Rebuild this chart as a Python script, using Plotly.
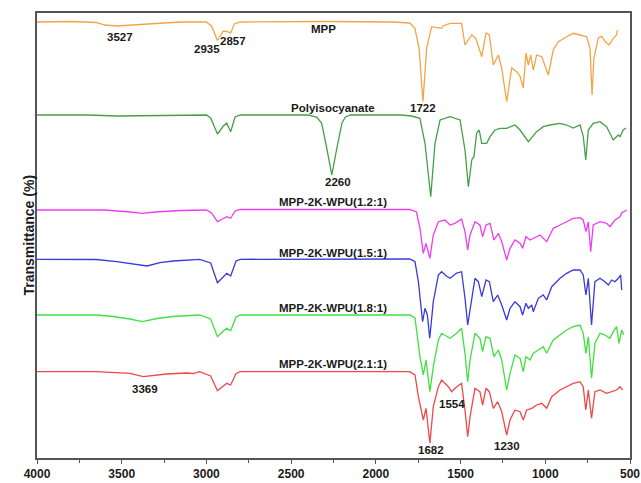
import plotly.graph_objects as go

# ---- data: FTIR spectra (wavenumber in cm-1, offset transmittance in arbitrary units) ----
mpp_wn = [4000, 3800, 3650, 3600, 3527, 3450, 3300, 3150, 3000, 2970, 2935, 2900, 2880, 2857, 2835, 2800,
          2300, 1900, 1800, 1770, 1745, 1722, 1700, 1671, 1612, 1604, 1562, 1494, 1474, 1434, 1410, 1375,
          1350, 1330, 1307, 1277, 1257, 1228, 1198, 1169, 1149, 1130, 1114, 1100, 1086, 1071, 1051, 1021,
          982, 953, 923, 874, 835, 795, 756, 736, 724, 713, 687, 667, 648, 624, 599, 579, 575]
mpp_t = [436, 436.5, 435.5, 433, 432, 433, 434.5, 436, 436, 432, 417.5, 427, 426.5, 425, 434, 436,
         436.5, 436, 435, 430, 410, 356.5, 410, 431.3, 429.7, 432, 434.7, 434.7, 413, 423, 419.7, 401.3,
         425, 423, 393, 403, 389.7, 356.3, 390, 386.3, 381.7, 370, 405, 393, 403, 388, 403, 401.3,
         383, 408, 416.3, 421.3, 424.7, 423, 421.3, 409.7, 363, 399.7, 420, 421.7, 416.7, 413, 419.7, 423, 428]

poly_wn = [4000, 3700, 3527, 3300, 3000, 2975, 2935, 2900, 2880, 2857, 2831, 2800, 2400, 2350, 2320, 2290,
           2260, 2230, 2200, 2180, 2150, 1850, 1790, 1740, 1710, 1676, 1651, 1621, 1562, 1503, 1474, 1454,
           1434, 1421, 1405, 1390, 1375, 1346, 1326, 1297, 1267, 1228, 1179, 1149, 1100, 1051, 1012, 972,
           913, 874, 835, 795, 776, 761, 746, 717, 677, 638, 599, 569, 559, 540, 524]
poly_t = [343, 343, 342, 342.5, 343, 340, 324, 332, 335, 326.3, 341, 343, 343, 341, 335, 310,
          283, 310, 335, 341, 343, 343, 342, 339.7, 314.7, 261.3, 314.7, 338, 341.3, 338, 308, 271.3,
          298, 301.3, 325, 328, 314.7, 314.7, 321.3, 328, 329.7, 329.7, 333, 328, 316.3, 326.3, 331.3, 333,
          334.7, 333, 330, 333, 321.7, 298, 328, 334.7, 336.3, 331.3, 318, 323, 321.3, 328, 330]

w12_wn = [4000, 3600, 3450, 3380, 3300, 3150, 3000, 2970, 2935, 2900, 2880, 2857, 2831, 2800, 1800, 1760,
          1740, 1720, 1704, 1681, 1661, 1631, 1592, 1562, 1533, 1494, 1474, 1458, 1444, 1415, 1386, 1370,
          1350, 1326, 1303, 1277, 1257, 1228, 1208, 1179, 1149, 1134, 1114, 1090, 1071, 1031, 992, 953,
          913, 874, 835, 795, 776, 760, 746, 732, 717, 677, 638, 618, 589, 559, 549, 520]
w12_t = [248, 248, 246, 244.7, 246, 247.5, 248, 245, 236.3, 240, 241.3, 239.7, 247, 248.5, 248.7, 246,
         230, 204.7, 214.7, 199.7, 223, 236.3, 238, 233, 234.7, 239, 226.3, 208, 223, 236.3, 233, 221.3,
         233, 234.7, 218, 224.7, 216.3, 198, 209.7, 218, 214.7, 209.7, 221.3, 218, 219.7, 223, 216.3, 229.7,
         233, 236.3, 239.7, 240.3, 238, 226.3, 236, 206.3, 233, 236.3, 234.7, 231.3, 238, 241.3, 245, 248]

w15_wn = [4000, 3650, 3530, 3432, 3375, 3350, 3274, 3196, 3040, 2975, 2935, 2900, 2880, 2857, 2825, 2800,
          1800, 1769, 1749, 1724, 1710, 1696, 1682, 1661, 1631, 1612, 1582, 1562, 1523, 1494, 1474, 1458,
          1444, 1415, 1395, 1375, 1350, 1330, 1307, 1281, 1257, 1228, 1208, 1179, 1149, 1134, 1114, 1100,
          1080, 1071, 1041, 1012, 992, 962, 913, 874, 835, 795, 776, 760, 746, 727, 707, 677, 648, 628,
          608, 589, 569, 555, 549]
w15_t = [198.7, 198.5, 196.3, 194, 192, 192, 195.3, 197, 198.7, 195, 175.3, 182, 184.7, 182, 197, 198.7,
         199, 196.3, 176.3, 136.3, 149.7, 143, 119.7, 156.3, 183, 186.3, 181.7, 179.7, 185, 186.3, 160, 133,
         149.7, 179.7, 176.3, 161.3, 178, 176.3, 156.3, 163, 153, 138, 149.7, 156.3, 151.3, 143, 154.7, 149.7,
         153, 146.3, 159.7, 163, 158, 171.3, 179.7, 184.7, 188, 188, 183, 163, 179.7, 133, 176.3, 179.7, 176.3, 173,
         178, 176.3, 179.7, 183, 168]

w18_wn = [4000, 3650, 3550, 3450, 3380, 3290, 3200, 3040, 2975, 2935, 2900, 2880, 2857, 2825, 2800, 1800,
          1769, 1740, 1720, 1704, 1681, 1661, 1631, 1612, 1562, 1523, 1494, 1474, 1458, 1444, 1415, 1386,
          1370, 1350, 1326, 1303, 1277, 1257, 1228, 1208, 1179, 1149, 1130, 1114, 1090, 1071, 1041, 1012,
          992, 953, 913, 874, 835, 795, 776, 760, 746, 727, 707, 677, 648, 618, 599, 579, 565, 549, 536]
w18_t = [143, 143, 141.5, 139, 136.3, 139.5, 141.5, 143, 139, 121.3, 127, 129.7, 127.3, 141, 143, 143,
         140, 101.3, 83, 98, 66.3, 91.3, 118, 124.7, 119.7, 124.7, 129.7, 104.7, 76.3, 98, 124.7, 119.7,
         106.3, 121.3, 119.7, 101.3, 108, 98, 68, 84.7, 103, 99.7, 86.3, 101.3, 98, 104.7, 108, 111.3,
         104.7, 118, 123, 128, 131.3, 133, 124.7, 104.7, 121.3, 79.7, 114.7, 124.7, 123, 119.7, 126.3, 131.3, 114.7, 128, 123]

w21_wn = [4000, 3650, 3451, 3373, 3235, 3117, 3077, 3040, 2975, 2935, 2900, 2880, 2857, 2825, 2800, 1800,
          1769, 1749, 1720, 1704, 1681, 1661, 1631, 1612, 1572, 1553, 1523, 1494, 1474, 1458, 1444, 1415,
          1386, 1370, 1350, 1330, 1307, 1281, 1257, 1228, 1208, 1179, 1149, 1130, 1110, 1080, 1051, 1021,
          992, 962, 913, 874, 835, 795, 776, 761, 746, 727, 707, 677, 638, 608, 579, 559, 544]
w21_t = [86.3, 86.3, 84.7, 81.3, 84, 85, 84.5, 86.3, 82, 67.3, 72, 74.7, 73, 84.5, 86.3, 86.3,
         83, 61.3, 38, 49.7, 14.7, 51.3, 71.3, 78, 71.3, 66.3, 71.3, 74.7, 48, 21.3, 41.3, 69.7,
         66.3, 53, 69.7, 66.3, 49.7, 56.3, 46.3, 23, 38, 48, 46.3, 38, 48, 49.7, 53, 54.7,
         49.7, 61.3, 68, 71.3, 74.7, 76.3, 71.3, 48, 68, 39.7, 66.3, 68, 64.7, 66.3, 68, 71.3, 68]

series_names = ["MPP", "Polyisocyanate", "MPP-2K-WPU(1.2:1)", "MPP-2K-WPU(1.5:1)",
                "MPP-2K-WPU(1.8:1)", "MPP-2K-WPU(2.1:1)"]
x_tick_vals = [4000, 3500, 3000, 2500, 2000, 1500, 1000, 500]
x_tick_text = ["4000", "3500", "3000", "2500", "2000", "1500", "1000", "500"]

# peak labels
peak_labels = ["3527", "2935", "2857", "1722", "2260", "3369", "1554", "1682", "1230"]

# ---- figure ----
colors = ["#F5A445", "#45A045", "#F03CF0", "#3A3AD8", "#3FE03F", "#EE4848"]
spectra = [(mpp_wn, mpp_t), (poly_wn, poly_t), (w12_wn, w12_t), (w15_wn, w15_t),
           (w18_wn, w18_t), (w21_wn, w21_t)]

fig = go.Figure()
for (wn, t), name, c in zip(spectra, series_names, colors):
    fig.add_trace(go.Scatter(x=wn, y=t, mode="lines", name=name,
                             line=dict(color=c, width=1.3), showlegend=False))

FONT = "Liberation Sans, Arial, sans-serif"
ann_font = dict(family=FONT, size=11.5, color="#1a1a1a")

# label positions (x in cm-1, y in plot units)
name_pos_y = [428.7, 349.7, 256.3, 205, 149.7, 94]
name_pos_x = [2310, 2253, 2253, 2253, 2253, 2253]
peak_pos = [(3510, 420.7), (2998, 408.7), (2841, 417.3), (1720, 349.7), (2222, 275.7),
            (3363, 68.7), (1552, 54), (1676, 8), (1228, 12.5)]

annotations = []
for name, x, y in zip(series_names, name_pos_x, name_pos_y):
    annotations.append(dict(x=x, y=y, xref="x", yref="y", text="<b>%s</b>" % name,
                            showarrow=False, font=ann_font))
for lab, (x, y) in zip(peak_labels, peak_pos):
    annotations.append(dict(x=x, y=y, xref="x", yref="y", text="<b>%s</b>" % lab,
                            showarrow=False, font=ann_font))
annotations.append(dict(x=-0.032, y=0.5, xref="paper", yref="paper", text="<b>Transmittance (%)</b>",
                        textangle=-90, showarrow=False, font=dict(family=FONT, size=14, color="#1a1a1a")))
annotations.append(dict(x=0.5, y=-0.095, xref="paper", yref="paper",
                        text="<b>Wavenumber (cm<sup>-1</sup>)</b>",
                        showarrow=False, font=dict(family=FONT, size=14, color="#1a1a1a")))

fig.update_layout(
    width=641, height=483,
    margin=dict(l=37, r=11, t=13, b=25),
    paper_bgcolor="white", plot_bgcolor="white",
    annotations=annotations,
)
fig.update_xaxes(range=[4000, 500], tickvals=x_tick_vals, ticktext=x_tick_text,
                 showgrid=False, zeroline=False, showline=True, mirror=True,
                 linecolor="#555", linewidth=1.5, ticks="outside", ticklen=4, tickcolor="#555",
                 tickfont=dict(family=FONT, size=12, color="#1a1a1a", weight="bold"),
                 minor=dict(tickvals=[3750, 3250, 2750, 2250, 1750, 1250, 750], ticks="outside",
                            ticklen=3, tickcolor="#555"),
                 automargin=False)
fig.update_yaxes(range=[0, 445], showticklabels=False, ticks="", showgrid=False, zeroline=False,
                 showline=True, mirror=True, linecolor="#555", linewidth=1.5, automargin=False)

fig.write_html("out.html", config={"displayModeBar": False},
               post_script="document.body.style.margin='0';document.body.style.overflow='hidden';")
